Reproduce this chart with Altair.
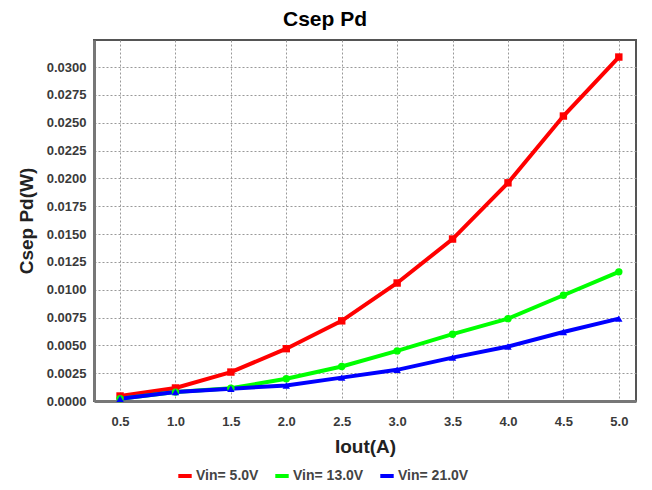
import altair as alt
import pandas as pd

iout = [0.5, 1.0, 1.5, 2.0, 2.5, 3.0, 3.5, 4.0, 4.5, 5.0]
series_names = ["Vin= 5.0V", "Vin= 13.0V", "Vin= 21.0V"]
vin5 = [0.00045, 0.00117, 0.0026, 0.0047, 0.0072, 0.0106, 0.01455, 0.0196, 0.0256, 0.0309]
vin13 = [0.0002, 0.0008, 0.00115, 0.0020, 0.0031, 0.0045, 0.0060, 0.0074, 0.0095, 0.0116]
vin21 = [0.0002, 0.0008, 0.0011, 0.0014, 0.0021, 0.0028, 0.0039, 0.0049, 0.0062, 0.0074]
colors = ["#ff0000", "#00ff00", "#0000ff"]
shapes = ["square", "circle", "triangle-up"]

rows = []
for name, vals in zip(series_names, [vin5, vin13, vin21]):
    for x, y in zip(iout, vals):
        rows.append({"Iout": x, "Pd": y, "Series": name, "SeriesP": name})
df = pd.DataFrame(rows)

x_enc = alt.X("Iout:Q", scale=alt.Scale(domain=[0.265, 5.155], nice=False, zero=False),
              axis=alt.Axis(values=iout, format=".1f", title="Iout(A)"))
y_enc = alt.Y("Pd:Q", scale=alt.Scale(domain=[0, 0.03243], nice=False),
              axis=alt.Axis(values=[i * 0.0025 for i in range(13)], format=".4f", title="Csep Pd(W)"))
color_enc = alt.Color("Series:N", scale=alt.Scale(domain=series_names, range=colors),
                      legend=alt.Legend(orient="none", legendX=82, legendY=427, direction="horizontal",
                                        title=None, symbolType="stroke", symbolStrokeWidth=4,
                                        symbolSize=180, labelFont="Arial", labelFontSize=14,
                                        labelFontWeight="bold", labelColor="#444", columnPadding=8,
                                        symbolOffset=0, labelOffset=2))

lines = alt.Chart(df).mark_line(strokeWidth=4).encode(x=x_enc, y=y_enc, color=color_enc)
points = alt.Chart(df).mark_point(filled=True, size=55, opacity=1).encode(
    x=x_enc, y=y_enc,
    color=alt.Color("SeriesP:N", scale=alt.Scale(domain=series_names, range=colors), legend=None),
    shape=alt.Shape("SeriesP:N", scale=alt.Scale(domain=series_names, range=shapes), legend=None))

chart = (lines + points).resolve_scale(color="independent", shape="independent").properties(
    width=542, height=361,
    title=alt.Title("Csep Pd", fontSize=21, font="Arial", fontWeight="bold", color="#000", offset=10, dx=-40),
    autosize=alt.AutoSizeParams(type="none"),
    padding={"left": 86, "top": 32, "right": 8, "bottom": 95},
).configure_view(stroke="#555", strokeWidth=2).configure_axis(
    labelFont="Arial", labelFontSize=13, labelFontWeight="bold", labelColor="#3a3a3a",
    titleFont="Arial", titleFontSize=19, titleFontWeight="bold", titleColor="#222",
    gridColor="#999", gridDash=[2, 2], gridWidth=1, ticks=False,
    domainColor="#777", domainWidth=3,
).configure_axisX(labelPadding=14, titlePadding=9).configure_axisY(labelPadding=8, titlePadding=10)

chart.save("out.html", embed_options={"renderer": "svg", "actions": False})
